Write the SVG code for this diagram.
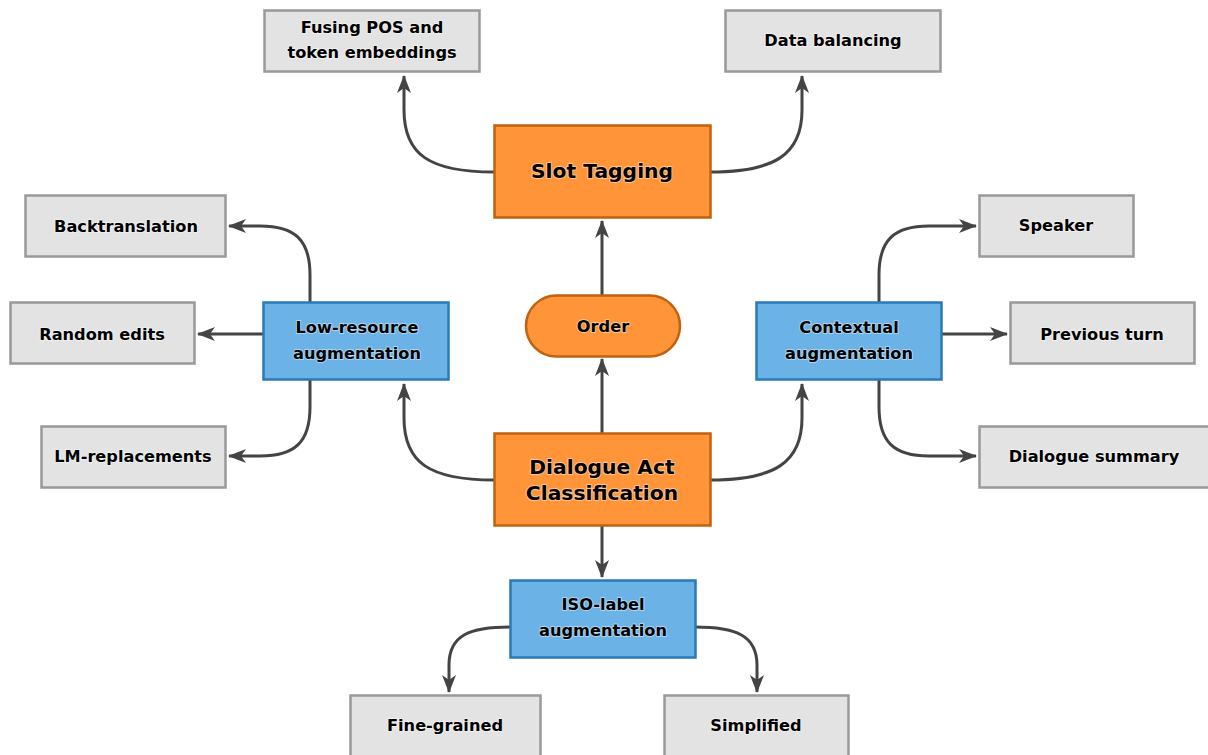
<svg xmlns="http://www.w3.org/2000/svg" width="1208" height="755" viewBox="0 0 1208 755">
<defs>
<marker id="ah" viewBox="0 0 18 14" refX="17" refY="7" markerWidth="18" markerHeight="14" markerUnits="userSpaceOnUse" orient="auto">
<path d="M0,0 L18,7 L0,14 L5,7 Z" fill="#444"/>
</marker>
<style>
.e{fill:none;stroke:#444;stroke-width:3;marker-end:url(#ah)}
.o{fill:#FF9538;stroke:#C0620F;stroke-width:2.5}
.b{fill:#6BB3E6;stroke:#2A7AB8;stroke-width:2.5}
.g{fill:#E3E3E3;stroke:#999;stroke-width:2.5}
text{font-family:"DejaVu Sans",sans-serif;font-weight:bold;text-anchor:middle;fill:#000;paint-order:stroke;stroke:#fff;stroke-opacity:0.45;stroke-width:2;stroke-linejoin:round}
.L{font-size:20.3px}
.s{font-size:16.2px}
</style>
</defs>
<rect width="1208" height="755" fill="#fff"/>
<g id="connectors">
<path class="e" d="M602,295 L602,221"/>
<path class="e" d="M602,433 L602,359"/>
<path class="e" d="M602,525 L602,577"/>
<path class="e" d="M494,172 C430,172 404,155 404,110 L404,76"/>
<path class="e" d="M710,172 C774,172 802,155 802,110 L802,76"/>
<path class="e" d="M494,480 C430,480 404,463 404,418 L404,384"/>
<path class="e" d="M710,480 C774,480 802,463 802,418 L802,384"/>
<path class="e" d="M310,302 L310,275 C310,240 295,226 260,226 L229,226"/>
<path class="e" d="M263,334 L198,334"/>
<path class="e" d="M310,380 L310,407 C310,442 295,456 260,456 L229,456"/>
<path class="e" d="M879,302 L879,275 C879,240 894,226 929,226 L976,226"/>
<path class="e" d="M941,334 L1007,334"/>
<path class="e" d="M879,380 L879,407 C879,442 894,456 929,456 L976,456"/>
<path class="e" d="M510,627 C470,627 449,635 449,665 L449,692"/>
<path class="e" d="M695,627 C735,627 757,635 757,665 L757,692"/>
</g>
<g id="slot-tagging"><rect class="o" x="494.5" y="125.5" width="216" height="92"/><text class="L" x="602" y="178">Slot Tagging</text></g>
<g id="order"><rect class="o" x="526" y="295.5" width="154" height="61" rx="30.5"/><text class="s" x="603" y="332">Order</text></g>
<g id="dac"><rect class="o" x="494.5" y="433.5" width="216" height="92"/><text class="L" x="602" y="474">Dialogue Act</text><text class="L" x="602" y="500">Classification</text></g>
<g id="iso"><rect class="b" x="510.5" y="580.5" width="185" height="77"/><text class="s" x="603" y="610">ISO-label</text><text class="s" x="603" y="636">augmentation</text></g>
<g id="low-resource"><rect class="b" x="263.5" y="302.5" width="185" height="77"/><text class="s" x="357" y="333">Low-resource</text><text class="s" x="357" y="359">augmentation</text></g>
<g id="contextual"><rect class="b" x="756.5" y="302.5" width="185" height="77"/><text class="s" x="849" y="333">Contextual</text><text class="s" x="849" y="359">augmentation</text></g>
<g id="fusing"><rect class="g" x="264.5" y="10.5" width="215" height="61"/><text class="s" x="372" y="33">Fusing POS and</text><text class="s" x="372" y="58">token embeddings</text></g>
<g id="data-balancing"><rect class="g" x="725.5" y="10.5" width="215" height="61"/><text class="s" x="833" y="46">Data balancing</text></g>
<g id="backtranslation"><rect class="g" x="25.5" y="195.5" width="200" height="61"/><text class="s" x="126" y="232">Backtranslation</text></g>
<g id="random-edits"><rect class="g" x="10.5" y="302.5" width="184" height="61"/><text class="s" x="102" y="340">Random edits</text></g>
<g id="lm-replacements"><rect class="g" x="41.5" y="426.5" width="184" height="61"/><text class="s" x="133" y="462">LM-replacements</text></g>
<g id="speaker"><rect class="g" x="979.5" y="195.5" width="154" height="61"/><text class="s" x="1056" y="231">Speaker</text></g>
<g id="previous-turn"><rect class="g" x="1010.5" y="302.5" width="184" height="61"/><text class="s" x="1102" y="340">Previous turn</text></g>
<g id="dialogue-summary"><rect class="g" x="979.5" y="426.5" width="230" height="61"/><text class="s" x="1094" y="462">Dialogue summary</text></g>
<g id="fine-grained"><rect class="g" x="350.5" y="695.5" width="190" height="70"/><text class="s" x="445" y="731">Fine-grained</text></g>
<g id="simplified"><rect class="g" x="664.5" y="695.5" width="184" height="70"/><text class="s" x="756" y="731">Simplified</text></g>
</svg>
